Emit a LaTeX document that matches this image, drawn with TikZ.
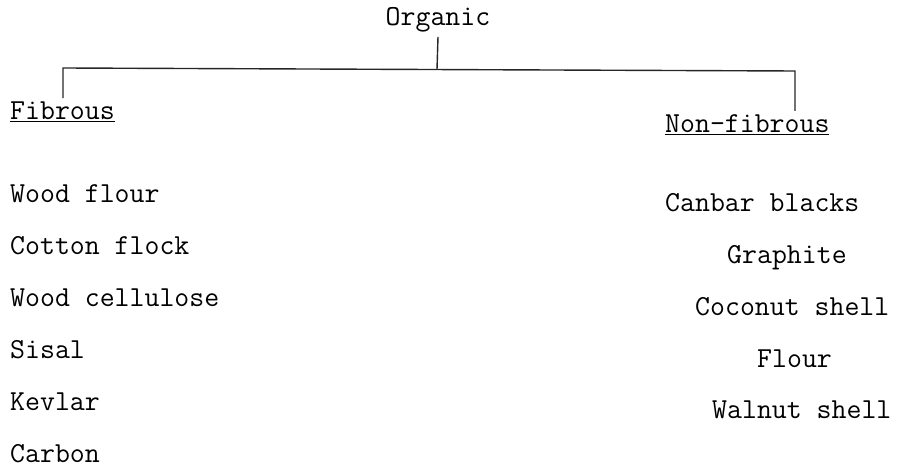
\documentclass[tikz,border=0pt]{standalone}
\usepackage{fontspec}
\usetikzlibrary{calc}
\begin{document}
\begin{tikzpicture}[x=1pt,y=1pt,
  lbl/.style={inner sep=0pt, anchor=base west, font=\ttfamily\fontsize{29}{32}\selectfont},
  conn/.style={line width=1.4pt, black!85}]
\useasboundingbox (0,0) rectangle (906,-470);
% root
\node[lbl, anchor=base] (org) at (438,-26) {Organic};
% categories
\node[lbl] (fib) at (10,-120) {\underline{Fibrous}};
\node[lbl] (nfib) at (665,-133) {\underline{Non-fibrous}};
% junctions
\coordinate (jl) at (63,-68);
\coordinate (jm) at (437,-69.5);
\coordinate (jr) at (795,-71);
\draw[conn] (org.south) ++(0,-4) coordinate (os) -- (jm);
\draw[conn] ($(fib.north -| jl)+(0,4)$) -- (jl) -- (jr) -- ($(nfib.north -| jr)+(0,4)$);
% left list
\node[lbl] (l1) at (10,-203) {Wood flour};
\node[lbl] (l2) at (10,-255) {Cotton flock};
\node[lbl] (l3) at (10,-307) {Wood cellulose};
\node[lbl] (l4) at (10,-359) {Sisal};
\node[lbl] (l5) at (10,-411) {Kevlar};
\node[lbl] (l6) at (10,-463) {Carbon};
% right list
\node[lbl] (r1) at (665,-212) {Canbar blacks};
\node[lbl] (r2) at (727,-264) {Graphite};
\node[lbl] (r3) at (695,-316) {Coconut shell};
\node[lbl] (r4) at (757,-368) {Flour};
\node[lbl] (r5) at (712,-419) {Walnut shell};
\end{tikzpicture}
\end{document}
